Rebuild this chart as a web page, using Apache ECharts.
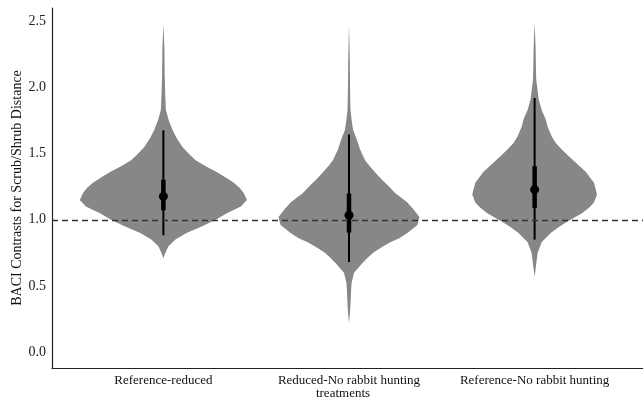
<!DOCTYPE html>
<html><head><meta charset="utf-8">
<script src="https://cdn.jsdelivr.net/npm/echarts@6/dist/echarts.min.js"></script>
<style>html,body{margin:0;padding:0;background:#fff}#c{width:643px;height:400px}</style>
</head><body><div id="c"></div>
<script>
const categories = ['Reference-reduced', 'Reduced-No rabbit hunting', 'Reference-No rabbit hunting'];
const yTicks = [0, 0.5, 1.0, 1.5, 2.0, 2.5];
const refLine = 1.0;

// [value, relative density] pairs
const densityRefReduced = [[2.48,0],[2.3,1.0],[2.1,1.3],[1.95,1.8],[1.83,2.5],[1.76,5],[1.68,9],[1.62,13],[1.55,19],[1.50,25],[1.45,32],[1.40,43],[1.36,53],[1.32,62],[1.28,70],[1.24,76],[1.20,80],[1.15,83],[1.10,77],[1.05,63],[1.00,52],[0.95,38],[0.90,23],[0.85,12],[0.80,5],[0.75,2],[0.71,0]];
const densityReducedNoHunt = [[2.48,0],[2.2,0.8],[2.0,1.0],[1.83,1.5],[1.76,2.5],[1.68,4],[1.60,8],[1.53,11],[1.45,16],[1.40,21],[1.35,27],[1.30,33],[1.25,40],[1.20,46],[1.16,53],[1.13,58],[1.08,64],[1.02,70],[0.96,68],[0.90,58],[0.86,50],[0.83,41],[0.79,32],[0.75,24],[0.71,18],[0.67,13],[0.60,5],[0.52,2.5],[0.45,2],[0.37,1.5],[0.30,1],[0.22,0]];
const densityRefNoHunt = [[2.49,0],[2.3,1.0],[2.15,1.3],[2.06,1.6],[1.91,4],[1.83,7],[1.76,11],[1.70,13],[1.63,17],[1.58,21],[1.53,27],[1.48,34],[1.43,41],[1.36,51],[1.28,59],[1.19,62],[1.13,59],[1.09,54],[1.05,47],[1.01,38],[0.98,31],[0.94,23],[0.90,16],[0.83,7],[0.75,3],[0.66,1.5],[0.57,0]];

const medians = [1.177, 1.034, 1.228];
const innerLow = [1.072, 0.903, 1.088];
const innerHigh = [1.303, 1.198, 1.404];
const outerLow = [0.883, 0.680, 0.850];
const outerHigh = [1.676, 1.645, 1.920];

const densities = [densityRefReduced, densityReducedNoHunt, densityRefNoHunt];
const maxDensity = Math.max(...densities.map(d => Math.max(...d.map(p => p[1]))));
const halfWidth = 0.45;

function violinItem(params, api) {
  const i = api.value(0);
  const d = densities[i];
  const right = d.map(p => api.coord([i + p[1] / maxDensity * halfWidth, p[0]]));
  const left = d.slice().reverse().map(p => api.coord([i - p[1] / maxDensity * halfWidth, p[0]]));
  return { type: 'polygon', shape: { points: right.concat(left) }, style: { fill: '#878787' } };
}
function intervalItem(w) {
  return function (params, api) {
    const i = api.value(0);
    const a = api.coord([i, api.value(1)]);
    const b = api.coord([i, api.value(2)]);
    return { type: 'line', shape: { x1: a[0], y1: a[1], x2: b[0], y2: b[1] }, style: { stroke: '#000', lineWidth: w } };
  };
}

const font = 'Liberation Serif';
const chart = echarts.init(document.getElementById('c'));
chart.setOption({
  animation: false,
  grid: { left: 52, right: -3, top: 8, bottom: 32, containLabel: false, outerBoundsMode: 'none' },
  xAxis: {
    type: 'value', min: -0.6, max: 2.6,
    name: 'treatments', nameLocation: 'middle', nameGap: 19, nameMoveOverlap: false,
    nameTextStyle: { fontFamily: font, fontSize: 13, color: '#111', padding: [0, 12, 0, 0] },
    axisLine: { show: true, onZero: false, lineStyle: { color: '#222', width: 1.2 } },
    axisTick: { show: false }, splitLine: { show: false },
    axisLabel: { customValues: [0, 1, 2], formatter: v => categories[Math.round(v)], fontFamily: font, fontSize: 13, color: '#111', margin: 6 }
  },
  yAxis: {
    type: 'value', min: -0.12, max: 2.6,
    name: 'BACI Contrasts for Scrub/Shrub Distance', nameLocation: 'middle', nameGap: 28, nameMoveOverlap: false,
    nameTextStyle: { fontFamily: font, fontSize: 14, color: '#111' },
    axisLine: { show: true, onZero: false, lineStyle: { color: '#222', width: 1.2 } },
    axisTick: { show: false }, splitLine: { show: false },
    axisLabel: { customValues: yTicks, formatter: v => v.toFixed(1), fontFamily: font, fontSize: 14, color: '#222', margin: 6 }
  },
  series: [
    { type: 'custom', renderItem: violinItem, data: categories.map((c, i) => [i]), z: 1,
      markLine: { silent: true, symbol: 'none', label: { show: false },
        lineStyle: { color: '#333', width: 1.3, type: [6, 4] }, data: [{ yAxis: refLine }] } },
    { type: 'custom', renderItem: intervalItem(2), data: categories.map((c, i) => [i, outerLow[i], outerHigh[i]]), z: 3 },
    { type: 'custom', renderItem: intervalItem(4.5), data: categories.map((c, i) => [i, innerLow[i], innerHigh[i]]), z: 4 },
    { type: 'scatter', data: categories.map((c, i) => [i, medians[i]]), symbolSize: 9, itemStyle: { color: '#000', opacity: 1 }, z: 5 }
  ]
});
</script></body></html>
